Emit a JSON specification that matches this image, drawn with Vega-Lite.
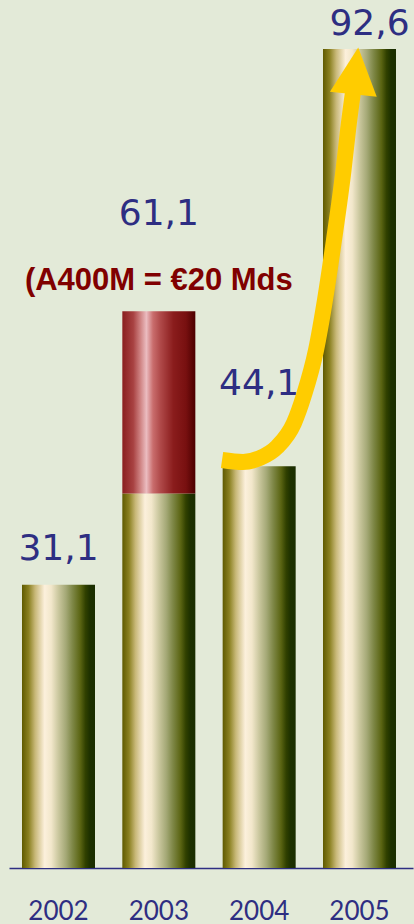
{
  "$schema": "https://vega.github.io/schema/vega-lite/v6.json",
  "width": 404,
  "height": 819,
  "autosize": {"type": "none"},
  "padding": {"left": 9, "top": 49, "right": 1, "bottom": 56},
  "background": "#e3ead8",
  "datasets": {
    "bars": [
      {"year": "2002", "total": 31.1, "base": 31.1},
      {"year": "2003", "total": 61.1, "base": 41.1, "note": "(A400M = €20 Mds"},
      {"year": "2004", "total": 44.1, "base": 44.1},
      {"year": "2005", "total": 92.6, "base": 92.6}
    ],
    "arrow": [
      {"pt": 1, "u": 2003.630, "v": 44.79},
      {"pt": 2, "u": 2003.839, "v": 44.57},
      {"pt": 3, "u": 2004.008, "v": 45.00},
      {"pt": 4, "u": 2004.178, "v": 46.21},
      {"pt": 5, "u": 2004.347, "v": 48.85},
      {"pt": 6, "u": 2004.447, "v": 51.92},
      {"pt": 7, "u": 2004.567, "v": 56.86},
      {"pt": 8, "u": 2004.656, "v": 62.35},
      {"pt": 9, "u": 2004.746, "v": 68.94},
      {"pt": 10, "u": 2004.841, "v": 76.62},
      {"pt": 11, "u": 2004.886, "v": 81.01},
      {"pt": 12, "u": 2004.935, "v": 85.18}
    ],
    "head": [
      {"u": 2004.963, "v": 87.5}
    ]
  },
  "layer": [
    {
      "data": {"name": "bars"},
      "layer": [
        {
          "mark": {
            "type": "bar",
            "color": {
              "gradient": "linear", "x1": 0, "y1": 0, "x2": 1, "y2": 0,
              "stops": [
                {"offset": 0, "color": "#5f5a00"},
                {"offset": 0.09, "color": "#8a8020"},
                {"offset": 0.18, "color": "#c8b878"},
                {"offset": 0.31, "color": "#fcf0dc"},
                {"offset": 0.4, "color": "#f2e7cb"},
                {"offset": 0.5, "color": "#cac79e"},
                {"offset": 0.6, "color": "#a5a977"},
                {"offset": 0.69, "color": "#7f8848"},
                {"offset": 0.8, "color": "#5a6412"},
                {"offset": 0.87, "color": "#304000"},
                {"offset": 0.93, "color": "#1d3000"},
                {"offset": 1, "color": "#1a2d00"}
              ]
            }
          },
          "encoding": {
            "x": {
              "field": "year", "type": "ordinal",
              "scale": {"type": "band", "domain": ["2002", "2003", "2004", "2005"], "paddingInner": 0.2724, "paddingOuter": 0.1495, "align": 0.4333},
              "axis": {
                "title": null, "labelAngle": 0, "ticks": false, "tickSize": 0,
                "domainColor": "#2e2e82", "domainWidth": 1.5,
                "labelColor": "#2e2e82", "labelFont": "Lato", "labelFontSize": 26,
                "labelBaseline": "alphabetic", "labelPadding": 51, "grid": false
              }
            },
            "y": {"field": "base", "type": "quantitative", "scale": {"domain": [0, 89.9], "clamp": true, "nice": false}, "axis": null}
          }
        },
        {
          "transform": [{"filter": "datum.total > datum.base"}],
          "mark": {
            "type": "bar",
            "color": {
              "gradient": "linear", "x1": 0, "y1": 0, "x2": 1, "y2": 0,
              "stops": [
                {"offset": 0, "color": "#8a1f1f"},
                {"offset": 0.15, "color": "#a84242"},
                {"offset": 0.25, "color": "#d08585"},
                {"offset": 0.33, "color": "#ebbcc0"},
                {"offset": 0.42, "color": "#c96d6d"},
                {"offset": 0.52, "color": "#b04a4a"},
                {"offset": 0.7, "color": "#8a1c1c"},
                {"offset": 0.87, "color": "#781010"},
                {"offset": 1, "color": "#4c0000"}
              ]
            }
          },
          "encoding": {
            "x": {"field": "year", "type": "ordinal"},
            "y": {"field": "total", "type": "quantitative", "axis": null},
            "y2": {"field": "base"}
          }
        },
        {
          "transform": [{"filter": "datum.year == '2002'"}],
          "mark": {"type": "text", "font": "DejaVu Sans", "fontSize": 36, "color": "#2e2e82", "baseline": "alphabetic", "dy": -25},
          "encoding": {
            "x": {"field": "year", "type": "ordinal"},
            "y": {"field": "total", "type": "quantitative", "axis": null},
            "text": {"field": "total", "type": "quantitative", "format": ".1f"}
          }
        },
        {
          "transform": [{"filter": "datum.year == '2003'"}],
          "mark": {"type": "text", "font": "DejaVu Sans", "fontSize": 36, "color": "#2e2e82", "baseline": "alphabetic", "dy": -86},
          "encoding": {
            "x": {"field": "year", "type": "ordinal"},
            "y": {"field": "total", "type": "quantitative", "axis": null},
            "text": {"field": "total", "type": "quantitative", "format": ".1f"}
          }
        },
        {
          "transform": [{"filter": "datum.year == '2004'"}],
          "mark": {"type": "text", "font": "DejaVu Sans", "fontSize": 36, "color": "#2e2e82", "baseline": "alphabetic", "dy": -71},
          "encoding": {
            "x": {"field": "year", "type": "ordinal"},
            "y": {"field": "total", "type": "quantitative", "axis": null},
            "text": {"field": "total", "type": "quantitative", "format": ".1f"}
          }
        },
        {
          "transform": [{"filter": "datum.year == '2005'"}],
          "mark": {"type": "text", "font": "DejaVu Sans", "fontSize": 36, "color": "#2e2e82", "baseline": "alphabetic", "dy": -14, "dx": 10},
          "encoding": {
            "x": {"field": "year", "type": "ordinal"},
            "y": {"field": "total", "type": "quantitative", "axis": null},
            "text": {"field": "total", "type": "quantitative", "format": ".1f"}
          }
        },
        {
          "transform": [{"filter": "isValid(datum.note)"}],
          "mark": {"type": "text", "font": "Liberation Sans", "fontWeight": "bold", "fontSize": 31, "color": "#800000", "baseline": "alphabetic", "dy": -21},
          "encoding": {
            "x": {"field": "year", "type": "ordinal"},
            "y": {"field": "total", "type": "quantitative", "axis": null},
            "text": {"field": "note", "type": "nominal"}
          }
        }
      ]
    },
    {
      "layer": [
        {
          "data": {"name": "arrow"},
          "mark": {"type": "line", "color": "#ffcc00", "strokeWidth": 16, "interpolate": "monotone", "strokeCap": "butt"},
          "encoding": {
            "x": {"field": "u", "type": "quantitative", "scale": {"domain": [2001.5066, 2005.5333], "zero": false, "nice": false}, "axis": null},
            "y": {"field": "v", "type": "quantitative", "axis": null},
            "order": {"field": "pt", "type": "quantitative"}
          }
        },
        {
          "data": {"name": "head"},
          "mark": {"type": "point", "shape": "M0,-1L1,1L-1,1Z", "filled": true, "color": "#ffcc00", "opacity": 1, "size": 2209, "angle": 6, "strokeWidth": 0},
          "encoding": {
            "x": {"field": "u", "type": "quantitative"},
            "y": {"field": "v", "type": "quantitative", "axis": null}
          }
        }
      ]
    }
  ],
  "resolve": {"scale": {"x": "independent"}},
  "config": {
    "view": {"stroke": null},
    "locale": {"number": {"decimal": ",", "thousands": ".", "grouping": [3], "currency": ["", " €"]}}
  }
}
